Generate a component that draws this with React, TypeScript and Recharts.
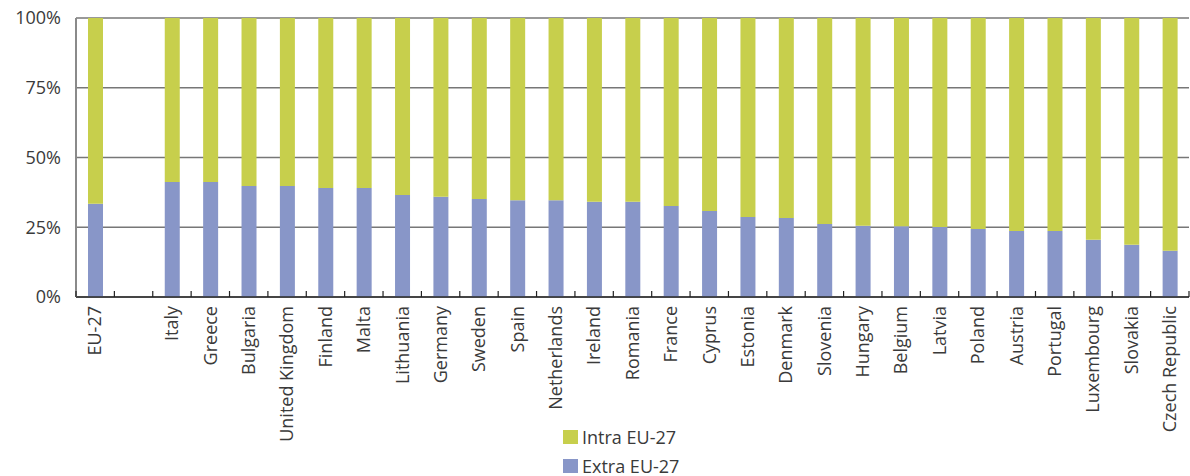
import { BarChart, Bar, XAxis, YAxis, CartesianGrid, Legend } from "recharts";

const CATEGORIES = [
  "EU-27", "", "Italy", "Greece", "Bulgaria", "United Kingdom", "Finland", "Malta",
  "Lithuania", "Germany", "Sweden", "Spain", "Netherlands", "Ireland", "Romania",
  "France", "Cyprus", "Estonia", "Denmark", "Slovenia", "Hungary", "Belgium",
  "Latvia", "Poland", "Austria", "Portugal", "Luxembourg", "Slovakia", "Czech Republic",
];

// share of trade with partners outside the EU-27 (%)
const EXTRA_EU = [
  33.4, null, 41.2, 41.2, 39.8, 39.8, 39.1, 39.1, 36.6, 35.9, 35.1, 34.7, 34.7, 34.1,
  34.1, 32.6, 30.8, 28.7, 28.3, 26.2, 25.5, 25.4, 25.1, 24.4, 23.7, 23.7, 20.5, 18.7, 16.6,
];

// share of trade with other EU-27 members (%)
const INTRA_EU = [
  66.6, null, 58.8, 58.8, 60.2, 60.2, 60.9, 60.9, 63.4, 64.1, 64.9, 65.3, 65.3, 65.9,
  65.9, 67.4, 69.2, 71.3, 71.7, 73.8, 74.5, 74.6, 74.9, 75.6, 76.3, 76.3, 79.5, 81.3, 83.4,
];

const Y_TICKS = [0, 25, 50, 75, 100];

const WIDTH = 1190;
const HEIGHT = 476;
const Y_AXIS_W = 76;
const MARGIN = { top: 18, right: 1, bottom: 0, left: 0 };
const BAND = (WIDTH - Y_AXIS_W - MARGIN.left - MARGIN.right) / CATEGORIES.length;

const GREEN = "#c7cf4c";
const BLUE = "#8896c8";
const TEXT = "#3a3a3a";
const FONT = "'Open Sans', 'Noto Sans', sans-serif";

const data = CATEGORIES.map((name, i) => ({
  name,
  extra: EXTRA_EU[i],
  intra: INTRA_EU[i],
}));

// rotated country label plus the small inward tick at each category boundary
function CountryTick(props: any) {
  const { x, y, payload, index } = props;
  const left = x - BAND / 2;
  return (
    <g>
      <line x1={left} x2={left} y1={y - 6} y2={y} stroke="#222" strokeWidth={1.2} />
      {index === CATEGORIES.length - 1 && (
        <line x1={x + BAND / 2} x2={x + BAND / 2} y1={y - 6} y2={y} stroke="#222" strokeWidth={1.2} />
      )}
      {payload.value && (
        <text
          x={x}
          y={y + 9}
          dy="0.35em"
          textAnchor="end"
          transform={`rotate(-90, ${x}, ${y + 9})`}
          fill={TEXT}
          fontSize={18}
          fontFamily={FONT}
        >
          {payload.value}
        </text>
      )}
    </g>
  );
}

function LegendBox({ payload }: any) {
  const items = [...(payload || [])].reverse();
  return (
    <div style={{ fontFamily: FONT, fontSize: 18, color: TEXT }}>
      {items.map((it: any) => (
        <div key={it.value} style={{ display: "flex", alignItems: "center", height: 29 }}>
          <span style={{ width: 15, height: 14, background: it.color, marginRight: 4 }} />
          <span style={{ lineHeight: "20px" }}>{it.value}</span>
        </div>
      ))}
    </div>
  );
}

export default function App() {
  return (
    <div style={{ position: "absolute", left: 0, top: 0, background: "#fff" }}>
      <BarChart width={WIDTH} height={HEIGHT} data={data} margin={MARGIN} barSize={15}>
        <CartesianGrid vertical={false} stroke="#777" strokeWidth={1.4} />
        <XAxis
          dataKey="name"
          interval={0}
          height={HEIGHT - 297 - MARGIN.bottom}
          tickLine={false}
          tickSize={0}
          tickMargin={0}
          tick={<CountryTick />}
          axisLine={{ stroke: "#2a2a2a", strokeWidth: 1.6 }}
        />
        <YAxis
          width={Y_AXIS_W}
          domain={[0, 100]}
          ticks={Y_TICKS}
          tickFormatter={(v: number) => `${v}%`}
          tickLine={false}
          tickSize={0}
          tickMargin={15}
          axisLine={{ stroke: "#8a8a8a", strokeWidth: 2 }}
          tick={{ fill: TEXT, fontSize: 18, fontFamily: FONT }}
        />
        <Legend
          layout="horizontal"
          verticalAlign="middle"
          align="center"
          content={<LegendBox />}
          wrapperStyle={{ position: "absolute", left: 563, top: 422, width: 200 }}
        />
        <Bar dataKey="extra" name="Extra EU-27" stackId="a" fill={BLUE} isAnimationActive={false} />
        <Bar dataKey="intra" name="Intra EU-27" stackId="a" fill={GREEN} isAnimationActive={false} />
      </BarChart>
    </div>
  );
}
